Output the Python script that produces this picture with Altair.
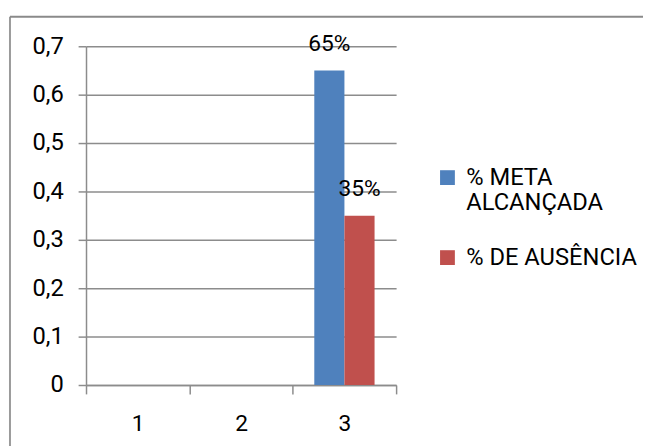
import altair as alt
import pandas as pd

categories = ["1", "2", "3"]
series = ["% META ALCANÇADA", "% DE AUSÊNCIA"]
meta = [None, None, 0.65]
ausencia = [None, None, 0.35]
colors = ["#4F81BD", "#C0504D"]
y_ticks = [0, 0.1, 0.2, 0.3, 0.4, 0.5, 0.6, 0.7]

rows = []
for c, m, a in zip(categories, meta, ausencia):
    rows.append({"cat": c, "series": series[0], "value": m})
    rows.append({"cat": c, "series": series[1], "value": a})
df = pd.DataFrame(rows)

FONT = "Roboto"
GRID = "#8c8c8c"

x_enc = alt.X(
    "cat:N",
    scale=alt.Scale(domain=categories, paddingInner=0, paddingOuter=0),
    axis=alt.Axis(
        title=None, labelAngle=0, tickBand="extent", tickSize=9,
        tickColor=GRID, tickWidth=1.5, domainColor=GRID, domainWidth=1.5,
        labelFont=FONT, labelFontSize=23, labelColor="black",
        labelPadding=19, grid=False,
    ),
)
xo_enc = alt.XOffset(
    "series:N", scale=alt.Scale(domain=series, paddingInner=0, paddingOuter=0.715)
)
y_enc = alt.Y(
    "value:Q",
    scale=alt.Scale(domain=[0, 0.7], nice=False),
    axis=alt.Axis(
        title=None, values=y_ticks, grid=True, gridColor=GRID, gridWidth=1.5,
        tickSize=8, tickColor=GRID, tickWidth=1.5, domainColor=GRID, domainWidth=1.5,
        labelFont=FONT, labelFontSize=24, labelColor="black", labelPadding=15,
        labelExpr="datum.value == 0 ? '0' : replace(format(datum.value, '.1f'), '.', ',')",
    ),
)

base = alt.Chart(df).transform_filter("isValid(datum.value)")

bars = base.mark_bar().encode(
    x=x_enc,
    xOffset=xo_enc,
    y=y_enc,
    color=alt.Color(
        "series:N",
        scale=alt.Scale(domain=series, range=colors),
        legend=alt.Legend(
            title=None, orient="none", legendX=354, legendY=121,
            symbolType="square", symbolSize=225, symbolStrokeWidth=0,
            labelFont=FONT, labelFontSize=24, labelColor="black",
            labelOffset=7, labelLimit=0, rowPadding=31, padding=0,
            labelExpr="datum.label == '% META ALCANÇADA' ? ['% META', 'ALCANÇADA'] : datum.label",
        ),
    ),
)

labels = base.mark_text(dy=-27, font=FONT, fontSize=23, color="black").encode(
    x=x_enc,
    xOffset=xo_enc,
    y=y_enc,
    text=alt.Text("value:Q", format=".0%"),
)

deco = alt.Chart(pd.DataFrame({"d": [0]}))
frame_left = deco.mark_rule(color="#9a9a9a", strokeWidth=2).encode(
    x=alt.value(-77), y=alt.value(-30), y2=alt.value(420)
)
frame_top = deco.mark_rule(color="#8a8a8a", strokeWidth=2).encode(
    x=alt.value(-77), x2=alt.value(600), y=alt.value(-30)
)

chart = (
    alt.layer(frame_left, frame_top, bars, labels)
    .properties(
        width=314,
        height=343,
        autosize=alt.AutoSizeParams(type="none"),
        padding={"left": 79, "top": 36, "right": 250, "bottom": 59},
    )
    .configure_view(stroke="transparent")
)

chart.save("out.html", embed_options={"renderer": "svg", "actions": False})
